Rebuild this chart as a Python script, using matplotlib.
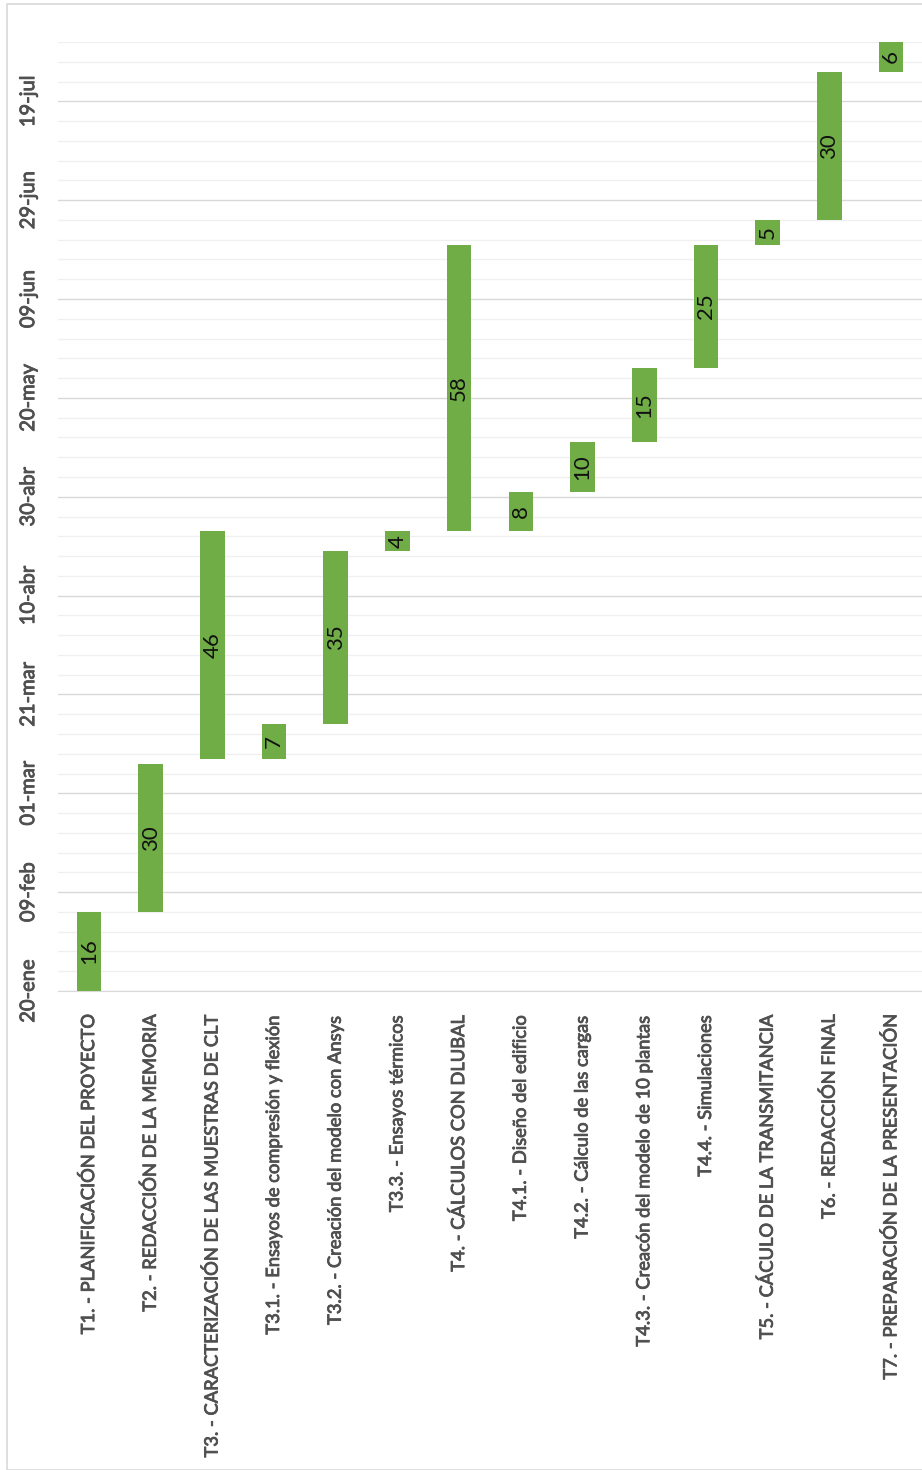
import pandas as pd
import matplotlib.pyplot as plt
import matplotlib.patheffects as pe
from matplotlib.patches import Rectangle

tasks = [
    'T1. - PLANIFICACIÓN DEL PROYECTO',
    'T2. - REDACCIÓN DE LA MEMORIA',
    'T3. - CARACTERIZACIÓN DE LAS MUESTRAS DE CLT',
    'T3.1. - Ensayos de compresión y flexión',
    'T3.2. - Creación del modelo con Ansys',
    'T3.3. - Ensayos térmicos',
    'T4. - CÁLCULOS CON DLUBAL',
    'T4.1. - Diseño del edificio',
    'T4.2. - Cálculo de las cargas',
    'T4.3. - Creacón del modelo de 10 plantas',
    'T4.4. - Simulaciones',
    'T5. - CÁCULO DE LA TRANSMITANCIA',
    'T6. - REDACCIÓN FINAL',
    'T7. - PREPARACIÓN DE LA PRESENTACIÓN',
]
start_dates = ['2021-01-20', '2021-02-05', '2021-03-08', '2021-03-08', '2021-03-15',
               '2021-04-19', '2021-04-23', '2021-04-23', '2021-05-01', '2021-05-11',
               '2021-05-26', '2021-06-20', '2021-06-25', '2021-07-25']
durations = [16, 30, 46, 7, 35, 4, 58, 8, 10, 15, 25, 5, 30, 6]
tick_labels = ['20-ene', '09-feb', '01-mar', '21-mar', '10-abr', '30-abr',
               '20-may', '09-jun', '29-jun', '19-jul']

origin = pd.Timestamp('2021-01-20')
starts = [(pd.Timestamp(d) - origin).days for d in start_dates]

plt.rcParams['font.family'] = ['Lato', 'DejaVu Sans']
green = '#70AD47'
grey = '#505050'

W, H = 922, 1470
fig = plt.figure(figsize=(W / 100, H / 100), dpi=100)
fig.patches.append(Rectangle((7 / W, 0), 1, 1 - 4 / H, transform=fig.transFigure,
                             fill=False, edgecolor='#D9D9D9', lw=1.2))
ax = fig.add_axes([58 / W, (H - 991) / H, (922 - 58) / W, (991 - 42) / H])

thick = [pe.withStroke(linewidth=0.6, foreground=grey)]

x = list(range(len(tasks)))
ax.bar(x, durations, width=0.4, bottom=starts, color=green, zorder=3)
for i in x:
    ax.text(i, starts[i] + durations[i] / 2, str(durations[i]), rotation=90,
            ha='center', va='center', fontsize=16, color='#111111', zorder=4)

ax.set_xlim(-0.5, len(tasks) - 0.5)
ax.set_ylim(0, 192)
ax.set_yticks(range(0, 181, 20))
ax.set_yticklabels(tick_labels, rotation=90, va='center', fontsize=14.5, color=grey)
ax.set_yticks(range(0, 193, 4), minor=True)
ax.set_xticks(x)
ax.set_xticklabels(tasks, rotation=90, ha='center', va='top', fontsize=13.2, color=grey)
for t in ax.get_xticklabels() + ax.get_yticklabels():
    t.set_path_effects(thick)
ax.tick_params(axis='both', which='both', length=0)
ax.tick_params(axis='x', pad=17)
ax.tick_params(axis='y', pad=15)

ax.grid(axis='y', which='minor', color='#F0F0F0', lw=1.0, zorder=0)
ax.grid(axis='y', which='major', color='#D9D9D9', lw=1.0, zorder=1)
for s in ['top', 'right', 'left']:
    ax.spines[s].set_visible(False)
ax.spines['bottom'].set_color('#D9D9D9')

fig.savefig('out.png', dpi=100)
